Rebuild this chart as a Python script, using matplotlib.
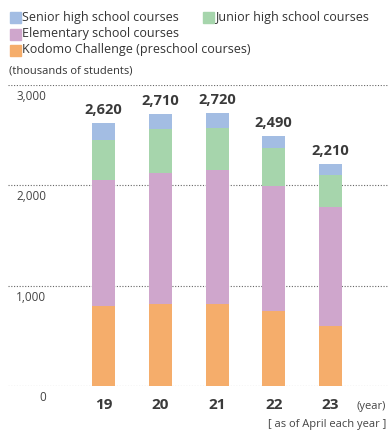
import matplotlib
matplotlib.use("Agg")
import matplotlib.pyplot as plt
from matplotlib.patches import Rectangle

plt.rcParams['font.family'] = ['Open Sans', 'DejaVu Sans']

# data (thousands of students)
years = ['19', '20', '21', '22', '23']
kodomo = [800, 820, 820, 745, 600]
elementary = [1250, 1300, 1330, 1250, 1180]
junior = [400, 440, 420, 380, 320]
senior = [170, 150, 150, 115, 110]
totals = ['2,620', '2,710', '2,720', '2,490', '2,210']
yticks = [0, 1000, 2000, 3000]
ytick_labels = ['0', '1,000', '2,000', '3,000']

series = [
    ('Kodomo Challenge (preschool courses)', kodomo, '#f5ad6b'),
    ('Elementary school courses', elementary, '#cfa6cc'),
    ('Junior high school courses', junior, '#a6d5ac'),
    ('Senior high school courses', senior, '#a3bde3'),
]

W, H = 388, 430
fig = plt.figure(figsize=(W / 100, H / 100), dpi=100)
ax = fig.add_axes([8 / W, 44 / H, 380 / W, 301 / H])

x = list(range(len(years)))
bottom = [0] * len(years)
for name, vals, col in series:
    ax.bar(x, vals, width=0.405, bottom=bottom, color=col, zorder=2)
    bottom = [b + v for b, v in zip(bottom, vals)]

for xi, tot, lab in zip(x, bottom, totals):
    ax.text(xi, tot + 60, lab, ha='center', va='bottom', fontsize=10.5,
            fontweight='bold', color='#3a3a3a')

for t, lab in zip(yticks, ytick_labels):
    ax.axhline(t, color='#666666', lw=0.8, ls=(0, (1, 1.5)), zorder=1)
    ax.text(-1.013, t - 50, lab, ha='right', va='top', fontsize=8.5, color='#444444')

for xi, lab in zip(x, years):
    ax.text(xi, -120, lab, ha='center', va='top', fontsize=11,
            fontweight='bold', color='#3a3a3a')

ax.set_xlim(-1.683, 5.013)
ax.set_ylim(0, 3000)
ax.axis('off')

fig.text(386 / W, 1 - 406 / H, '(year)', ha='right', va='center', fontsize=8, color='#444444')
fig.text(386 / W, 1 - 424 / H, '[ as of April each year ]', ha='right', va='center',
         fontsize=8, color='#444444')

# legend
legend_items = [
    ('Senior high school courses', '#a3bde3', 10, 17),
    ('Junior high school courses', '#a6d5ac', 203, 17),
    ('Elementary school courses', '#cfa6cc', 10, 34),
    ('Kodomo Challenge (preschool courses)', '#f5ad6b', 10, 50),
]
for lab, col, lx, ly in legend_items:
    fig.patches.append(Rectangle((lx / W, 1 - (ly + 5.5) / H), 11 / W, 11 / H,
                                 color=col, transform=fig.transFigure))
    fig.text((lx + 12) / W, 1 - ly / H, lab, ha='left', va='center',
             fontsize=9, color='#333333')

fig.text(9 / W, 1 - 71 / H, '(thousands of students)', ha='left', va='center',
         fontsize=8, color='#333333')

fig.savefig('out.png', dpi=100)
